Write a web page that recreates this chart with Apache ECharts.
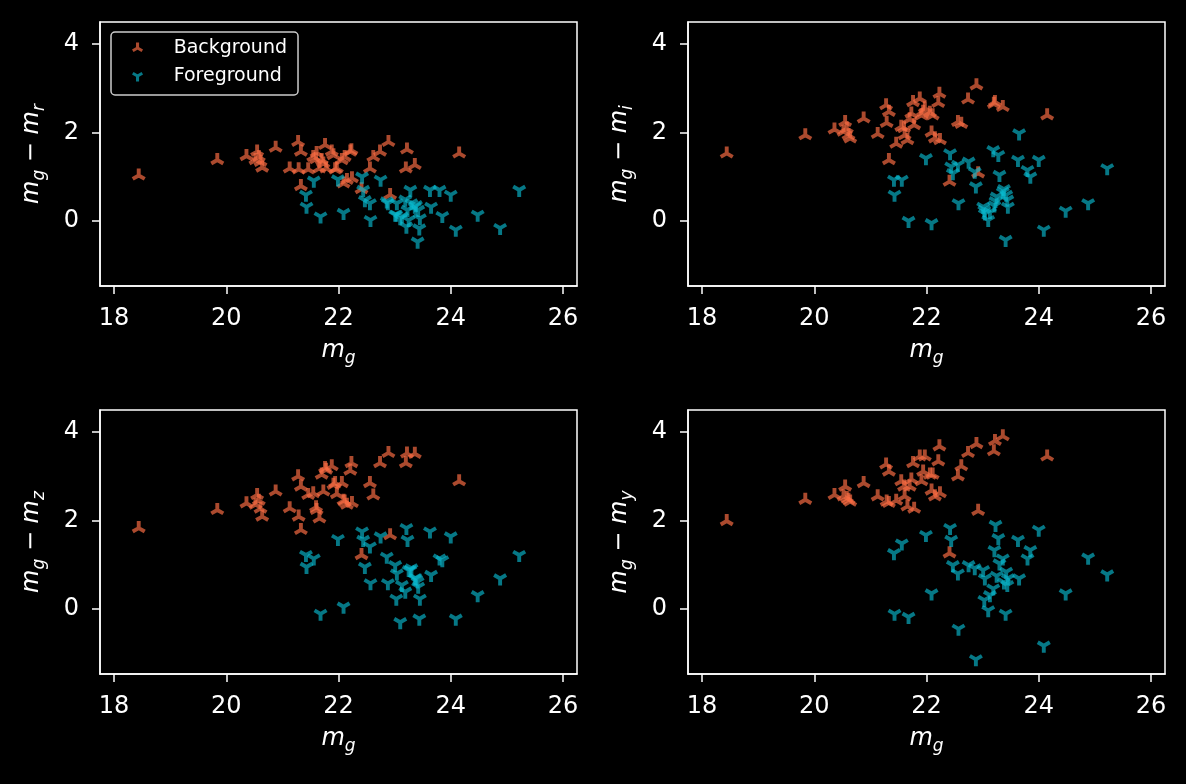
<!DOCTYPE html>
<html>
<head>
<meta charset="utf-8">
<script src="https://cdn.jsdelivr.net/npm/echarts@6/dist/echarts.min.js"></script>
<style>
  html, body { margin: 0; padding: 0; background: #000; }
  #chart { width: 1186px; height: 784px; }
</style>
</head>
<body>
<div id="chart"></div>
<script>
// g-band magnitude of each source (shared by all four panels)
const bgMag = [18.44, 19.84, 20.36, 20.55, 20.58, 20.61, 20.64, 20.52, 20.88, 21.13, 21.28, 21.33, 21.29, 21.33, 21.46, 21.55, 21.61, 21.66, 21.70, 21.76, 21.73, 21.78, 21.88, 21.91, 21.94, 21.97, 22.06, 22.21, 22.23, 22.11, 22.15, 22.24, 22.09, 22.41, 22.56, 22.62, 22.74, 22.89, 22.92, 23.22, 23.20, 23.36, 24.15, 21.60];
const bgGR  = [1.03, 1.38, 1.47, 1.57, 1.45, 1.34, 1.21, 1.38, 1.66, 1.19, 1.79, 1.57, 1.17, 0.79, 1.17, 1.45, 1.54, 1.19, 1.38, 1.72, 1.30, 1.19, 1.57, 1.49, 1.17, 1.19, 1.38, 1.57, 1.60, 1.45, 0.93, 0.97, 0.85, 0.72, 1.19, 1.45, 1.57, 1.79, 0.59, 1.62, 1.19, 1.27, 1.53, 1.40];
const bgGI  = [1.53, 1.94, 2.07, 2.24, 2.09, 1.94, 1.87, 2.02, 2.32, 1.97, 2.62, 2.47, 2.22, 1.38, 1.75, 2.13, 1.94, 1.83, 2.30, 2.69, 2.43, 2.17, 2.77, 2.39, 2.47, 2.55, 2.45, 2.67, 2.88, 2.39, 1.87, 1.83, 2.00, 0.89, 2.24, 2.20, 2.75, 3.07, 1.08, 2.69, 2.65, 2.58, 2.39, 2.10];
const bgGZ  = [1.83, 2.24, 2.39, 2.58, 2.45, 2.27, 2.09, 2.36, 2.66, 2.28, 3.00, 2.77, 2.09, 1.79, 2.58, 2.62, 2.24, 2.05, 3.04, 3.19, 2.66, 3.15, 3.23, 2.81, 2.85, 2.60, 2.85, 3.13, 3.30, 2.43, 2.36, 2.40, 2.45, 1.22, 2.85, 2.57, 3.30, 3.53, 1.67, 3.52, 3.30, 3.51, 2.89, 2.30];
const bgGY  = [1.99, 2.47, 2.58, 2.77, 2.51, 2.47, 2.43, 2.55, 2.85, 2.55, 3.27, 3.11, 2.43, 2.40, 2.45, 2.89, 2.55, 2.32, 2.77, 3.30, 2.93, 2.27, 3.45, 2.89, 3.11, 3.45, 3.04, 3.34, 3.68, 3.04, 2.55, 2.62, 2.68, 1.26, 3.00, 3.23, 3.53, 3.73, 2.22, 3.80, 3.57, 3.91, 3.45, 2.77];

const fgMag = [21.42, 21.43, 21.56, 21.68, 21.99, 22.09, 22.42, 22.44, 22.47, 22.56, 22.57, 22.75, 22.86, 22.88, 23.01, 23.04, 23.10, 23.03, 23.13, 23.19, 23.21, 23.23, 23.28, 23.30, 23.36, 23.42, 23.45, 23.44, 23.41, 23.38, 23.63, 23.65, 23.80, 23.85, 24.00, 24.09, 24.48, 24.88, 25.22, 23.25];
const fgGR  = [0.59, 0.32, 0.91, 0.10, 0.94, 0.18, 1.00, 0.70, 0.47, 0.40, 0.02, 0.93, 0.44, 0.40, 0.14, 0.40, 0.06, 0.14, 0.10, 0.48, -0.13, 0.25, 0.70, 0.40, 0.32, 0.25, 0.06, -0.17, -0.47, 0.36, 0.70, 0.32, 0.70, 0.11, 0.59, -0.20, 0.14, -0.16, 0.70, 0.02];
const fgGI  = [0.93, 0.59, 0.93, 0.00, 1.42, -0.05, 1.53, 1.23, 1.08, 1.27, 0.40, 1.34, 1.11, 0.78, 0.32, 0.17, 0.02, 0.25, 0.20, 1.60, 0.35, 0.45, 1.49, 1.04, 0.66, 0.59, 0.32, 0.48, -0.43, 0.72, 1.38, 1.98, 1.15, 1.00, 1.38, -0.20, 0.23, 0.40, 1.19, 0.55];
const fgGZ  = [1.22, 0.95, 1.14, -0.11, 1.58, 0.05, 1.75, 1.56, 0.95, 1.41, 0.58, 1.64, 1.18, 0.58, 0.99, 0.80, -0.30, 0.23, 0.54, 0.39, 1.83, 1.56, 0.88, 0.92, 0.69, 0.50, 0.23, -0.22, 0.62, 0.69, 1.75, 0.77, 1.14, 1.10, 1.64, -0.22, 0.31, 0.69, 1.22, 0.88];
const fgGY  = [1.26, -0.11, 1.48, -0.18, 1.67, 0.35, 1.83, 1.56, 0.99, 0.80, -0.45, 0.99, 0.92, -1.14, 0.88, 0.69, -0.03, 0.20, 0.31, 0.46, 1.33, 1.90, 1.60, 1.03, 1.14, 0.84, 0.69, 0.54, -0.11, 0.60, 1.56, 0.69, 1.14, 1.33, 1.79, -0.83, 0.35, 1.16, 0.78, 0.75];

const xTicks = [18, 20, 22, 24, 26];
const yTicks = [0, 2, 4];
const bands = ['r', 'i', 'z', 'y'];
const seriesNames = ['Background', 'Foreground'];

const bgColours = [bgGR, bgGI, bgGZ, bgGY];
const fgColours = [fgGR, fgGI, fgGZ, fgGY];

const FONT = 'DejaVu Sans';
const BG_COLOR = 'rgba(250, 108, 68, 0.85)';
const FG_COLOR = 'rgba(10, 188, 210, 0.8)';

// Three-armed marker built from rectangles radiating from the centre.
// extra: invisible moveTo points that pad the bounding box so the
// junction of the arms sits on the data point.
function triPath(angles, halfWidth, extra) {
  let d = '';
  angles.forEach(function (a) {
    const r = a * Math.PI / 180;
    const dx = Math.cos(r), dy = Math.sin(r);
    const nx = -dy * halfWidth, ny = dx * halfWidth;
    const pts = [[nx, ny], [dx + nx, dy + ny], [dx - nx, dy - ny], [-nx, -ny]];
    d += 'M' + pts.map(function (p) { return p[0].toFixed(4) + ' ' + p[1].toFixed(4); }).join('L') + 'Z';
  });
  extra.forEach(function (p) { d += 'M' + p[0] + ' ' + p[1]; });
  return 'path://' + d;
}
const ARM = 0.28;
const TRI_UP = triPath([-90, 150, 30], ARM, [[0, 1]]);
const TRI_DOWN = triPath([90, 210, -30], ARM, [[0, -1]]);
const TRI_UP_LEG = triPath([-90, 150, 30], ARM, [[0, 1], [5.6, 0]]);
const TRI_DOWN_LEG = triPath([90, 210, -30], ARM, [[0, -1], [5.6, 0]]);

const W = 477, H = 264;
const gridPos = [
  { left: 100, top: 22 }, { left: 688, top: 22 },
  { left: 100, top: 410 }, { left: 688, top: 410 }
];

const richName = {
  m: { fontSize: 24, fontStyle: 'italic', fontFamily: FONT, color: '#fff', lineHeight: 32 },
  s: { fontSize: 17, fontStyle: 'italic', fontFamily: FONT, color: '#fff', verticalAlign: 'bottom' },
  o: { fontSize: 24, fontFamily: FONT, color: '#fff', lineHeight: 32 }
};

const grid = [], xAxis = [], yAxis = [], series = [];
bands.forEach(function (band, i) {
  grid.push({
    left: gridPos[i].left, top: gridPos[i].top, width: W, height: H,
    show: true, borderColor: '#fff', borderWidth: 1.5, backgroundColor: '#000',
    outerBoundsMode: 'none'
  });
  xAxis.push({
    type: 'value', gridIndex: i, min: 17.75, max: 26.25,
    axisLine: { show: true, onZero: false, lineStyle: { color: '#fff', width: 1.5 } },
    splitLine: { show: false },
    axisTick: { show: true, inside: false, length: 8, lineStyle: { color: '#fff', width: 1.5 }, customValues: xTicks },
    axisLabel: { customValues: xTicks, color: '#fff', fontSize: 24, fontFamily: FONT, margin: 21 },
    name: '{m|m}{s|g}', nameLocation: 'middle', nameGap: 49,
    nameTextStyle: { color: '#fff', fontFamily: FONT, fontSize: 24, rich: richName }
  });
  yAxis.push({
    type: 'value', gridIndex: i, min: -1.47, max: 4.5,
    axisLine: { show: true, onZero: false, lineStyle: { color: '#fff', width: 1.5 } },
    splitLine: { show: false },
    axisTick: { show: true, inside: false, length: 8, lineStyle: { color: '#fff', width: 1.5 }, customValues: yTicks },
    axisLabel: { customValues: yTicks, color: '#fff', fontSize: 24, fontFamily: FONT, margin: 21 },
    name: '{m|m}{s|g}{o| − }{m|m}{s|' + band + '}', nameLocation: 'middle', nameGap: 52,
    nameTextStyle: { color: '#fff', fontFamily: FONT, fontSize: 24, rich: richName }
  });
  series.push({
    type: 'scatter', name: seriesNames[0], xAxisIndex: i, yAxisIndex: i,
    data: bgMag.map(function (x, k) { return [x, bgColours[i][k]]; }),
    symbol: TRI_UP, symbolSize: 14, symbolKeepAspect: true,
    itemStyle: { color: BG_COLOR }, silent: true
  });
  series.push({
    type: 'scatter', name: seriesNames[1], xAxisIndex: i, yAxisIndex: i,
    data: fgMag.map(function (x, k) { return [x, fgColours[i][k]]; }),
    symbol: TRI_DOWN, symbolSize: 14, symbolKeepAspect: true,
    itemStyle: { color: FG_COLOR }, silent: true
  });
});

const chart = echarts.init(document.getElementById('chart'), null, { renderer: 'canvas' });
chart.setOption({
  backgroundColor: '#000',
  animation: false,
  grid: grid,
  xAxis: xAxis,
  yAxis: yAxis,
  legend: {
    data: [
      { name: seriesNames[0], icon: TRI_UP_LEG },
      { name: seriesNames[1], icon: TRI_DOWN_LEG }
    ],
    orient: 'vertical', left: 111, top: 32,
    padding: [5, 11, 8, 21], itemWidth: 37, itemHeight: 11, itemGap: 6,
    borderColor: '#cccccc', borderWidth: 1.5, borderRadius: 4, backgroundColor: '#000',
    textStyle: { color: '#fff', fontSize: 19, fontFamily: FONT, lineHeight: 22 },
    selectedMode: false
  },
  series: series
});
</script>
</body>
</html>
